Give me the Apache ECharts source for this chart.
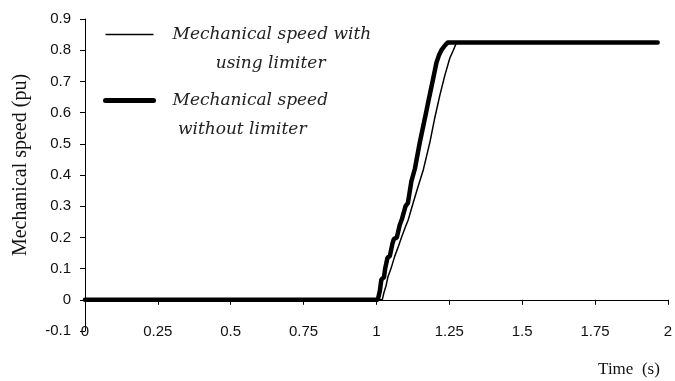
<!DOCTYPE html>
<html>
<head>
<meta charset="utf-8">
<script src="https://cdn.jsdelivr.net/npm/echarts@6/dist/echarts.min.js"></script>
<style>
  html, body { margin: 0; padding: 0; background: #fff; }
  #chart { width: 675px; height: 381px; }
</style>
</head>
<body>
<div id="chart"></div>
<script>
// time (s), speed (pu)
const withLimiter = [
  [0, 0], [1.02, 0], [1.025, 0.02], [1.033, 0.045], [1.04, 0.075], [1.05, 0.1],
  [1.063, 0.14], [1.075, 0.17], [1.086, 0.2], [1.098, 0.23], [1.109, 0.256],
  [1.126, 0.31], [1.143, 0.363], [1.161, 0.417], [1.184, 0.507], [1.2, 0.582],
  [1.218, 0.657], [1.235, 0.72], [1.252, 0.775], [1.264, 0.8], [1.275, 0.825],
  [1.965, 0.825]
]
const withoutLimiter = [
  [0, 0], [1.005, 0], [1.012, 0.03], [1.017, 0.065], [1.026, 0.072], [1.03, 0.1],
  [1.038, 0.135], [1.046, 0.14], [1.055, 0.18], [1.06, 0.195], [1.07, 0.2],
  [1.08, 0.24], [1.088, 0.26], [1.1, 0.3], [1.108, 0.31], [1.12, 0.38],
  [1.132, 0.42], [1.149, 0.505], [1.166, 0.58], [1.178, 0.635], [1.195, 0.71],
  [1.206, 0.76], [1.215, 0.785], [1.223, 0.8], [1.235, 0.815], [1.245, 0.825],
  [1.965, 0.825]
]
const seriesNames = ['Mechanical speed with\n        using limiter', 'Mechanical speed\n without limiter']
const xTicks = ['0', '0.25', '0.5', '0.75', '1', '1.25', '1.5', '1.75', '2']

const chart = echarts.init(document.getElementById('chart'))

const tickFont = { fontFamily: 'Liberation Sans', fontSize: 15, color: '#111' }

chart.setOption({
  animation: false,
  grid: { left: 85, right: 7, top: 19, bottom: 50 },
  legend: {
    orient: 'vertical',
    left: 98,
    top: -14,
    itemWidth: 48,
    itemHeight: 14,
    itemGap: -21,
    data: [
      { name: seriesNames[0], lineStyle: { width: 1.5 } },
      { name: seriesNames[1], lineStyle: { width: 5, cap: 'round' } }
    ],
    // blank first line keeps the sample line level with the first text line
    formatter: (name) => '\n' + name,
    itemStyle: { color: 'rgba(0,0,0,0)', borderColor: 'rgba(0,0,0,0)', borderWidth: 0 },
    textStyle: {
      fontFamily: 'DejaVu Serif',
      fontStyle: 'italic',
      fontSize: 17,
      lineHeight: 29,
      color: '#222',
      padding: [0, 0, 0, 14]
    }
  },
  xAxis: [
    {
      type: 'value',
      min: 0,
      max: 2,
      interval: 0.25,
      position: 'bottom',
      axisLine: { onZero: true, lineStyle: { color: '#000', width: 1 } },
      axisTick: { show: true, length: 5, lineStyle: { color: '#000' } },
      axisLabel: { show: false },
      splitLine: { show: false }
    },
    {
      type: 'value',
      min: 0,
      max: 2,
      interval: 0.25,
      position: 'bottom',
      axisLine: { show: false, onZero: false },
      axisTick: { show: false },
      axisLabel: {
        ...tickFont,
        margin: 1,
        verticalAlign: 'middle',
        formatter: (v) => xTicks[Math.round(v / 0.25)]
      },
      splitLine: { show: false },
      name: 'Time  (s)',
      nameLocation: 'end',
      nameGap: -8,
      nameTextStyle: {
        fontFamily: 'Liberation Serif',
        fontSize: 17,
        color: '#111',
        align: 'right',
        verticalAlign: 'top',
        padding: [30, 0, 0, 0]
      }
    }
  ],
  yAxis: {
    type: 'value',
    min: -0.1,
    max: 0.9,
    interval: 0.1,
    axisLine: { show: true, onZero: false, lineStyle: { color: '#000', width: 1 } },
    axisTick: { show: true, length: 5, lineStyle: { color: '#000' } },
    axisLabel: {
      ...tickFont,
      margin: 14,
      formatter: (v) => String(Math.round(v * 10) / 10)
    },
    splitLine: { show: false },
    name: 'Mechanical speed (pu)',
    nameLocation: 'middle',
    nameRotate: 90,
    nameGap: 54,
    nameTextStyle: {
      fontFamily: 'Liberation Serif',
      fontSize: 20,
      color: '#111',
      padding: [0, 0, 0, 20]
    }
  },
  series: [
    {
      name: seriesNames[0],
      type: 'line',
      xAxisIndex: 0,
      data: withLimiter,
      symbol: 'none',
      lineStyle: { color: '#000', width: 1.5 },
      itemStyle: { color: '#000' }
    },
    {
      name: seriesNames[1],
      type: 'line',
      xAxisIndex: 0,
      data: withoutLimiter,
      symbol: 'none',
      lineStyle: { color: '#000', width: 4.5, cap: 'round' },
      itemStyle: { color: '#000' }
    }
  ]
})
</script>
</body>
</html>
